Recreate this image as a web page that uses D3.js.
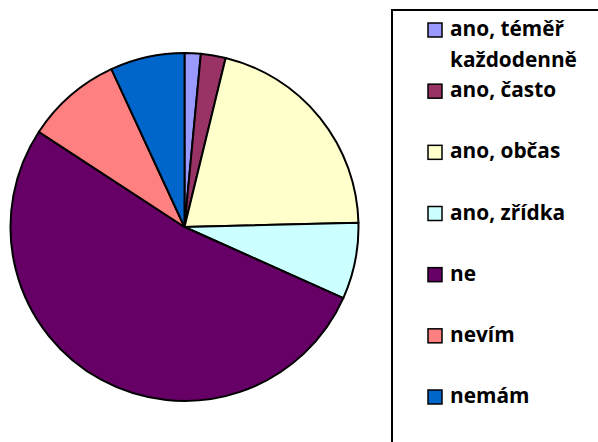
<!DOCTYPE html>
<html><head><meta charset="utf-8">
<script src="https://cdn.jsdelivr.net/npm/d3@7"></script>
<style>body{margin:0;background:#fff}svg{display:block}</style>
</head><body>
<svg id="c" width="598" height="442"></svg>
<script>
const categories = ["ano, téměř každodenně","ano, často","ano, občas","ano, zřídka","ne","nevím","nemám"];
const legendLines = [["ano, téměř","každodenně"],["ano, často"],["ano, občas"],["ano, zřídka"],["ne"],["nevím"],["nemám"]];
const values = [1.5, 2.3, 20.8, 7.1, 52.5, 8.9, 6.9];
const colors = ["#9999FF","#993366","#FFFFCC","#CCFFFF","#660066","#FF8080","#0066CC"];

const svg = d3.select("#c");
const cx = 184.5, cy = 227, r = 174;
const pie = d3.pie().sort(null).value(d => d)(values);
const arc = d3.arc().innerRadius(0).outerRadius(r);
svg.append("g").attr("transform", `translate(${cx},${cy})`)
  .selectAll("path").data(pie).join("path")
  .attr("d", arc).attr("fill", (d,i) => colors[i])
  .attr("stroke", "#000").attr("stroke-width", 2).attr("stroke-linejoin","round");

// legend
svg.append("rect").attr("x", 392).attr("y", 10).attr("width", 220).attr("height", 450)
  .attr("fill", "#fff").attr("stroke", "#000").attr("stroke-width", 2);
const font = "'Open Sans', sans-serif";
// fit font size so "každodenně" is ~127px wide, like the reference
const probe = svg.append("text").attr("font-family", font).attr("font-weight", 700)
  .attr("font-size", 20).text("každodenně");
const fs = 20 * 127 / probe.node().getComputedTextLength();
probe.remove();
const ys = d3.scaleLinear().domain([0, 6]).range([30, 397]);
const lg = svg.append("g");
categories.forEach((c, i) => {
  const y = ys(i);
  lg.append("rect").attr("x", 428).attr("y", y - 7).attr("width", 14).attr("height", 14)
    .attr("fill", colors[i]).attr("stroke", "#000").attr("stroke-width", 1.5);
  const t = lg.append("text").attr("x", 450).attr("y", y + 6)
    .attr("font-family", font).attr("font-weight", 700)
    .attr("font-size", fs).attr("fill", "#000");
  legendLines[i].forEach((l, j) => {
    t.append("tspan").attr("x", 450).attr("dy", j === 0 ? 0 : 31).text(l);
  });
});
</script>
</body></html>
